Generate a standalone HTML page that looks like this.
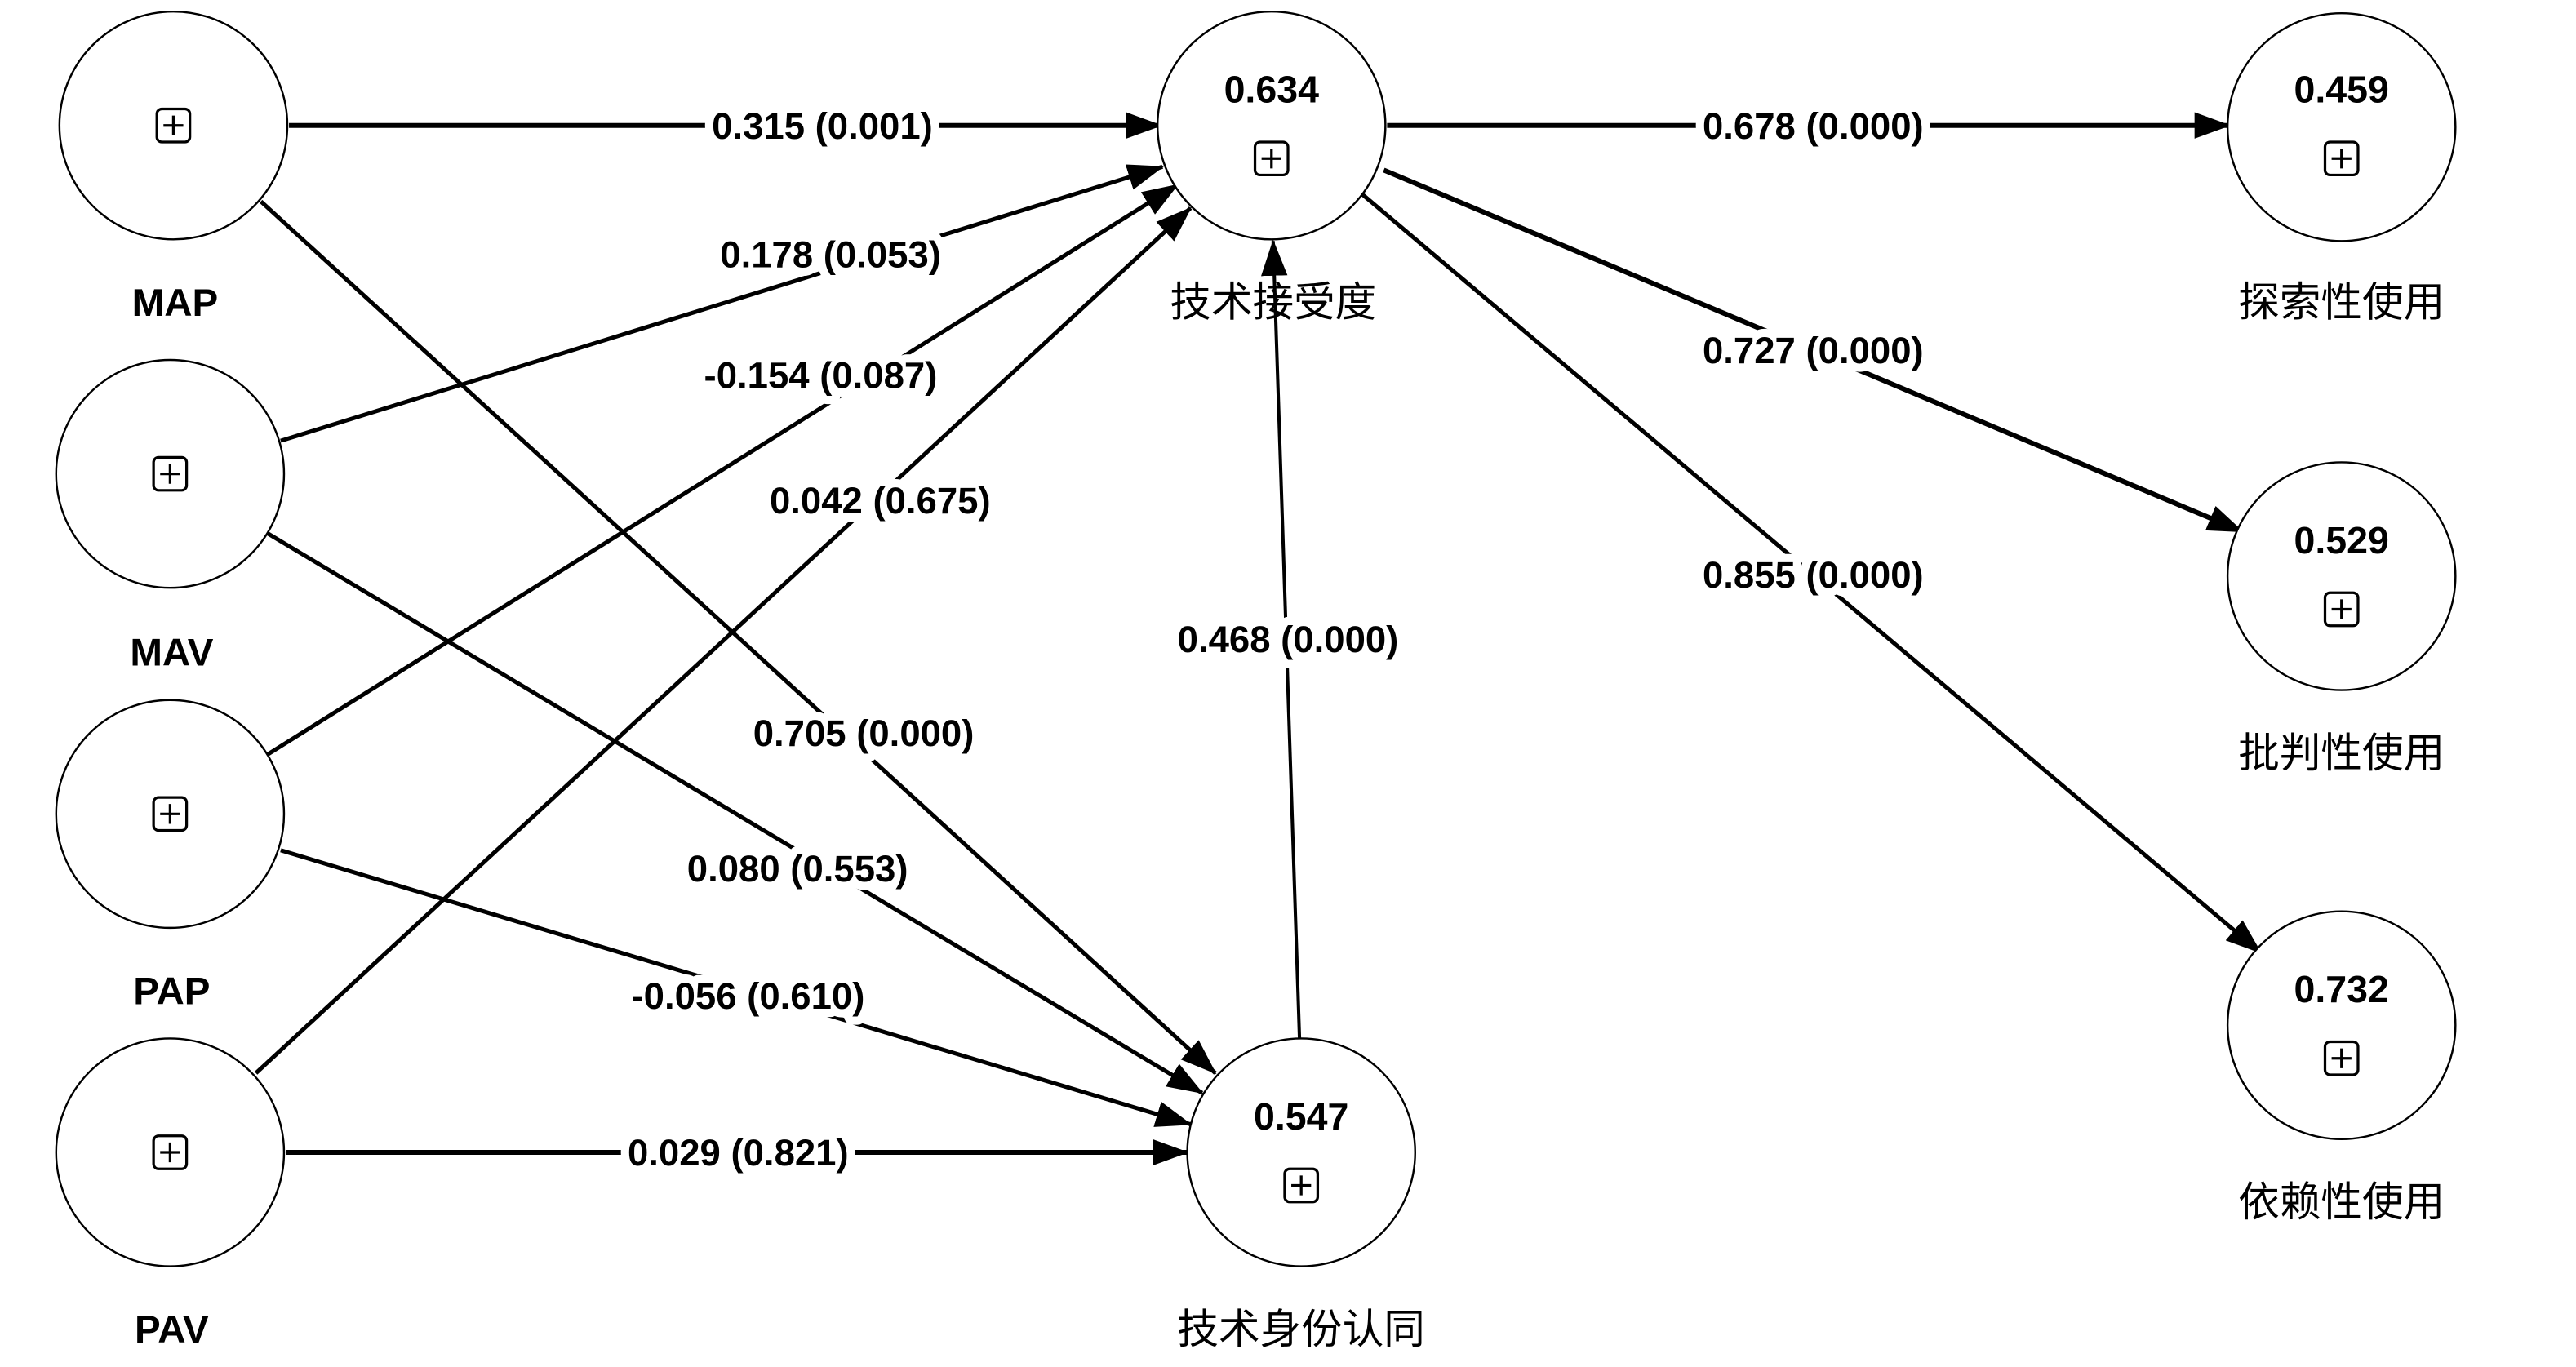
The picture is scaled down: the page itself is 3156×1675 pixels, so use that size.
<!DOCTYPE html>
<html><head><meta charset="utf-8"><style>
html,body{margin:0;padding:0;background:#fff;}
svg{display:block;}
text{font-family:"Liberation Sans","Noto Sans CJK SC",sans-serif;fill:#000;}
.lbl{font-size:22.5px;font-weight:bold;text-anchor:middle;dominant-baseline:middle;paint-order:stroke;stroke:#fff;stroke-width:10px;stroke-linejoin:round;}
.nl{font-size:23.5px;font-weight:bold;text-anchor:middle;dominant-baseline:middle;}
.cn{font-size:25px;text-anchor:middle;dominant-baseline:middle;}
.val{font-size:23px;font-weight:bold;text-anchor:middle;dominant-baseline:middle;}
</style></head><body>
<svg width="3156" height="1675" viewBox="0 0 1560 828" preserveAspectRatio="none" xmlns="http://www.w3.org/2000/svg">
<defs>
<marker id="a" viewBox="0 0 22 16" refX="21" refY="8" markerWidth="22" markerHeight="16" markerUnits="userSpaceOnUse" orient="auto">
<path d="M0,0 L22,8 L0,16 z" fill="#000"/>
</marker>
<g id="plus"><rect x="-10" y="-10" width="20" height="20" rx="3" fill="#fff" stroke="#000" stroke-width="1.6"/><path d="M-6,0H6M0,-6V6" stroke="#000" stroke-width="1.6"/></g>
</defs>
<g stroke="#000" fill="none" marker-end="url(#a)">
<line x1="175" y1="76" x2="703" y2="76" stroke-width="3"/>
<line x1="170" y1="267" x2="704" y2="101" stroke-width="2.5"/>
<line x1="162" y1="457" x2="713" y2="112" stroke-width="2.5"/>
<line x1="155" y1="650" x2="721" y2="126" stroke-width="2.5"/>
<line x1="158" y1="122" x2="736" y2="650" stroke-width="2.5"/>
<line x1="162" y1="323" x2="728" y2="662" stroke-width="2.5"/>
<line x1="170" y1="515" x2="721" y2="681" stroke-width="2.5"/>
<line x1="173" y1="698" x2="719" y2="698" stroke-width="3"/>
<line x1="787" y1="630" x2="771" y2="146" stroke-width="2"/>
<line x1="840" y1="76" x2="1350" y2="76" stroke-width="3"/>
<line x1="838" y1="103" x2="1358" y2="322" stroke-width="3"/>
<line x1="823" y1="116" x2="1369" y2="577" stroke-width="2.5"/>
</g>
<g fill="#fff" stroke="#000" stroke-width="1.2">
<circle cx="105" cy="76" r="69"/>
<circle cx="103" cy="287" r="69"/>
<circle cx="103" cy="493" r="69"/>
<circle cx="103" cy="698" r="69"/>
<circle cx="770" cy="76" r="69"/>
<circle cx="788" cy="698" r="69"/>
<circle cx="1418" cy="77" r="69"/>
<circle cx="1418" cy="349" r="69"/>
<circle cx="1418" cy="621" r="69"/>
</g>
<use href="#plus" x="105" y="76"/>
<use href="#plus" x="103" y="287"/>
<use href="#plus" x="103" y="493"/>
<use href="#plus" x="103" y="698"/>
<use href="#plus" x="770" y="96"/>
<use href="#plus" x="788" y="718"/>
<use href="#plus" x="1418" y="96"/>
<use href="#plus" x="1418" y="369"/>
<use href="#plus" x="1418" y="641"/>
<text class="val" x="770" y="56">0.634</text>
<text class="val" x="788" y="678">0.547</text>
<text class="val" x="1418" y="56">0.459</text>
<text class="val" x="1418" y="329">0.529</text>
<text class="val" x="1418" y="601">0.732</text>
<text class="nl" x="106" y="185">MAP</text>
<text class="nl" x="104" y="397">MAV</text>
<text class="nl" x="104" y="602">PAP</text>
<text class="nl" x="104" y="807">PAV</text>
<text class="cn" x="771" y="185">技术接受度</text>
<text class="cn" x="788" y="807">技术身份认同</text>
<text class="cn" x="1418" y="185">探索性使用</text>
<text class="cn" x="1418" y="458">批判性使用</text>
<text class="cn" x="1418" y="730">依赖性使用</text>
<text class="lbl" x="498" y="78">0.315 (0.001)</text>
<text class="lbl" x="503" y="156">0.178 (0.053)</text>
<text class="lbl" x="497" y="229">-0.154 (0.087)</text>
<text class="lbl" x="533" y="305">0.042 (0.675)</text>
<text class="lbl" x="523" y="446">0.705 (0.000)</text>
<text class="lbl" x="483" y="528">0.080 (0.553)</text>
<text class="lbl" x="453" y="605">-0.056 (0.610)</text>
<text class="lbl" x="447" y="700">0.029 (0.821)</text>
<text class="lbl" x="780" y="389">0.468 (0.000)</text>
<text class="lbl" x="1098" y="78">0.678 (0.000)</text>
<text class="lbl" x="1098" y="214">0.727 (0.000)</text>
<text class="lbl" x="1098" y="350">0.855 (0.000)</text>
</svg>
</body></html>
